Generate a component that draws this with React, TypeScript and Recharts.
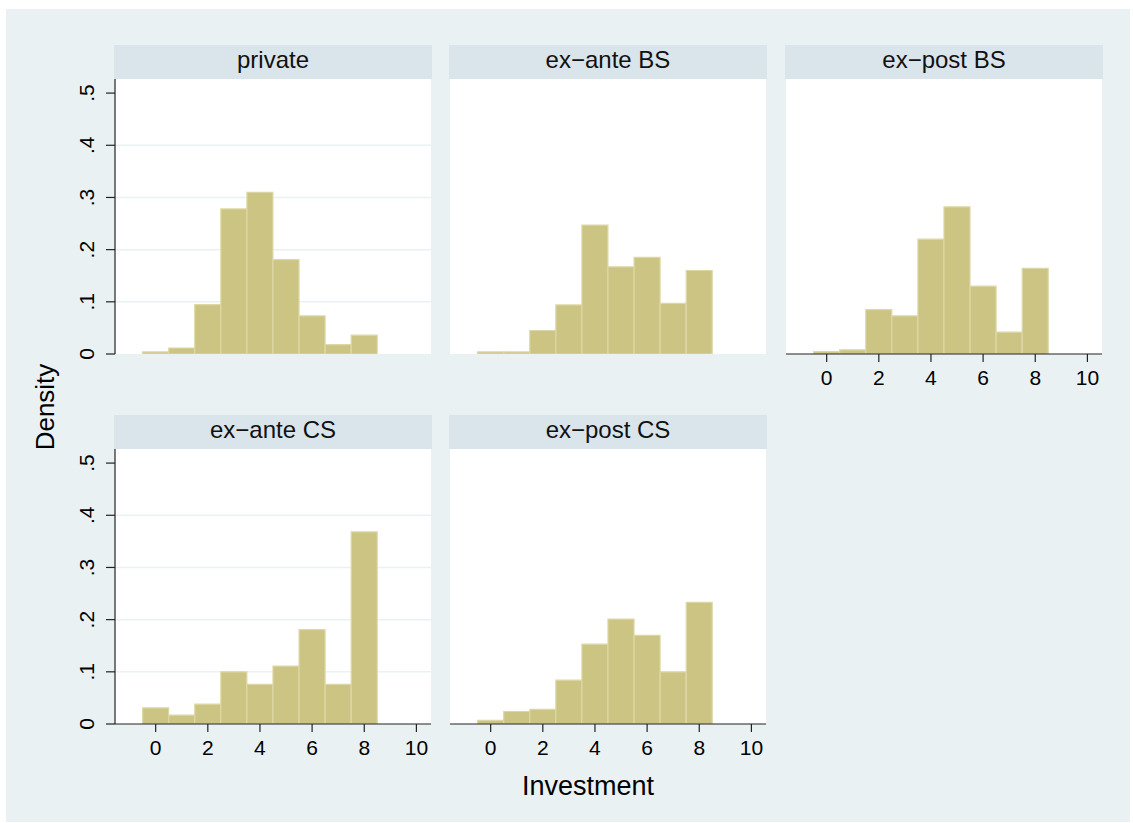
import React from 'react';
import { BarChart, Bar, XAxis, YAxis, CartesianGrid } from 'recharts';

// bin centres (width 1, from -0.5 to 8.5)
const bins = [0, 1, 2, 3, 4, 5, 6, 7, 8];

const privateDensity = [0.004, 0.0115, 0.0945, 0.278, 0.31, 0.181, 0.073, 0.018, 0.036];
const exAnteBS = [0.004, 0.004, 0.045, 0.094, 0.247, 0.167, 0.185, 0.097, 0.16];
const exPostBS = [0.0045, 0.008, 0.085, 0.073, 0.22, 0.282, 0.13, 0.042, 0.164];
const exAnteCS = [0.031, 0.017, 0.038, 0.1, 0.076, 0.111, 0.181, 0.076, 0.368];
const exPostCS = [0.007, 0.024, 0.028, 0.084, 0.153, 0.201, 0.17, 0.1, 0.233];

const panelTitles = ['private', 'ex\u2212ante BS', 'ex\u2212post BS', 'ex\u2212ante CS', 'ex\u2212post CS'];
const yTicks = [0, 0.1, 0.2, 0.3, 0.4, 0.5];
const yGrid = [0.1, 0.2, 0.3, 0.4];
const xTicks = [0, 2, 4, 6, 8, 10];

const FONT = '"Liberation Sans", Arial, Helvetica, sans-serif';
const OUTER_BG = '#eaf1f3';
const HEADER_BG = '#d9e5eb';
const GRID = '#eaf1f3';
const AXIS = '#222';
const BAR_FILL = '#cbc482';
const BAR_EDGE = '#ddd7a6';

const PLOT_W = 316;
const PLOT_H = 275;
const Y_AXIS_W = 55;
const X_AXIS_H = 45;
const HEADER_H = 34;
const COL_X = [115, 450, 786];
const ROW_Y = [79, 449];

const panels = [
  { title: panelTitles[0], values: privateDensity, col: 0, row: 0, showY: true, showX: false },
  { title: panelTitles[1], values: exAnteBS, col: 1, row: 0, showY: false, showX: false },
  { title: panelTitles[2], values: exPostBS, col: 2, row: 0, showY: false, showX: true },
  { title: panelTitles[3], values: exAnteCS, col: 0, row: 1, showY: true, showX: true },
  { title: panelTitles[4], values: exPostCS, col: 1, row: 1, showY: false, showX: true },
];

const fmtY = (v: number) => (v === 0 ? '0' : String(v).replace(/^0/, ''));

const YTick = ({ x, y, payload }: any) => (
  <text x={x} y={y} transform={`rotate(-90, ${x}, ${y})`} textAnchor="middle"
    fontSize={21} fontFamily={FONT} fill="#000">
    {fmtY(payload.value)}
  </text>
);

const Panel = ({ values, col, row, showY, showX }: any) => {
  const data = bins.map((b, i) => ({ bin: b, density: values[i] }));
  return (
    <div style={{ position: 'absolute', left: COL_X[col] - Y_AXIS_W, top: ROW_Y[row] }}>
      <BarChart width={PLOT_W + Y_AXIS_W} height={PLOT_H + X_AXIS_H} data={data}
        margin={{ top: 0, right: 0, bottom: 0, left: 0 }} barCategoryGap={0} barGap={0}>
        <CartesianGrid fill="#fff" vertical={false} horizontalValues={yGrid} stroke={GRID} strokeWidth={1.5} />
        <XAxis type="number" dataKey="bin" domain={[-1.56, 10.56]} allowDataOverflow ticks={xTicks} interval={0}
          height={X_AXIS_H} tickSize={8} tickMargin={8}
          axisLine={showX ? { stroke: AXIS, strokeWidth: 1.2 } : false}
          tickLine={showX ? { stroke: AXIS, strokeWidth: 1.2 } : false}
          tick={showX ? { fill: '#000', fontSize: 21, fontFamily: FONT } : false} />
        <YAxis type="number" domain={[0, 0.527]} allowDataOverflow ticks={yTicks} interval={0}
          width={Y_AXIS_W} tickSize={9} tickMargin={12}
          axisLine={showY ? { stroke: AXIS, strokeWidth: 1.2 } : false}
          tickLine={showY ? { stroke: AXIS, strokeWidth: 1.2 } : false}
          tick={showY ? <YTick /> : false} />
        <Bar dataKey="density" fill={BAR_FILL} stroke={BAR_EDGE} strokeWidth={1.2} isAnimationActive={false} />
      </BarChart>
    </div>
  );
};

export default function App() {
  return (
    <div style={{ position: 'absolute', left: 0, top: 0, width: 1133, height: 823, background: '#fff', fontFamily: FONT }}>
      <div style={{ position: 'absolute', left: 6, top: 9, width: 1124, height: 813, background: OUTER_BG }} />
      {panels.map((p) => (
        <Panel key={p.title} {...p} />
      ))}
      <svg width={1133} height={823} style={{ position: 'absolute', left: 0, top: 0, pointerEvents: 'none' }}>
        {panels.map((p) => {
          const x = COL_X[p.col] - 1;
          const y = ROW_Y[p.row] - HEADER_H;
          return (
            <g key={p.title}>
              <rect x={x} y={y} width={PLOT_W + 2} height={HEADER_H} fill={HEADER_BG} />
              <text x={x + (PLOT_W + 2) / 2} y={y + 23} textAnchor="middle" fontSize={24} fontFamily={FONT} fill="#111">
                {p.title}
              </text>
            </g>
          );
        })}
        <text x={54} y={407} transform="rotate(-90, 54, 407)" textAnchor="middle" fontSize={26} fontFamily={FONT} fill="#000">
          Density
        </text>
        <text x={588} y={795} textAnchor="middle" fontSize={27} fontFamily={FONT} fill="#000">
          Investment
        </text>
      </svg>
    </div>
  );
}
